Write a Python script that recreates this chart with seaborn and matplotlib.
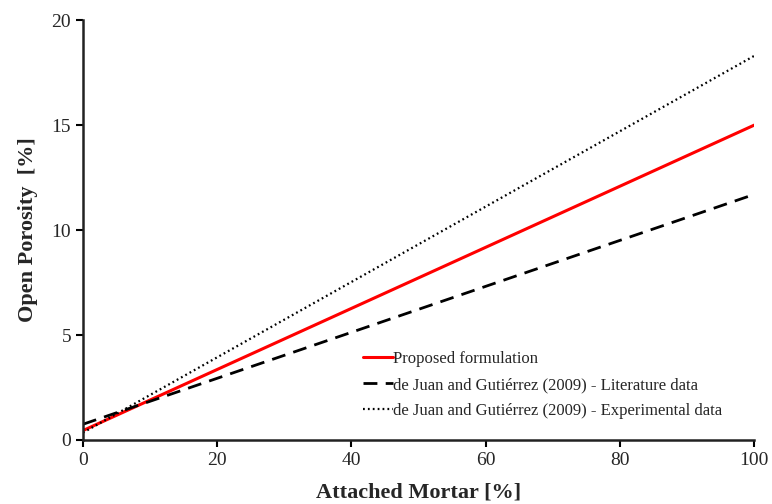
import matplotlib
matplotlib.use("Agg")
import matplotlib.pyplot as plt
import seaborn as sns
import pandas as pd

mortar = [0, 100]
proposed = [0.45, 15.0]
literature = [0.75, 11.7]
experimental = [0.35, 18.3]
labels = ["Proposed formulation",
          "de Juan and Gutiérrez (2009) - Literature data",
          "de Juan and Gutiérrez (2009) - Experimental data"]

sns.set_style("ticks")
plt.rcParams['font.family'] = ['Liberation Serif', 'DejaVu Serif']

fig = plt.figure(figsize=(7.72, 5.04), dpi=100)
ax = fig.add_axes([0.1075, 0.127, 0.8695, 0.833])

sns.lineplot(x=mortar, y=proposed, ax=ax, color="#ff0000", lw=2.2, label=labels[0])
sns.lineplot(x=mortar, y=literature, ax=ax, color="black", lw=2.0, label=labels[1])
sns.lineplot(x=mortar, y=experimental, ax=ax, color="black", lw=1.6, label=labels[2])
ax.lines[1].set_dashes([5, 3])
ax.lines[2].set_dashes([0.8, 1.4])

ax.set_xlim(0, 100)
ax.set_ylim(0, 20)
ax.set_xticks([0, 20, 40, 60, 80, 100])
ax.set_yticks([0, 5, 10, 15, 20])
ax.tick_params(axis='both', labelsize=14, direction='out', length=5, width=1.5, color='black')
for s in ["top", "right"]:
    ax.spines[s].set_visible(False)
for s in ["left", "bottom"]:
    ax.spines[s].set_linewidth(1.8)
    ax.spines[s].set_color('#222222')
ax.set_xlabel("Attached Mortar [%]", fontsize=16, fontweight='bold', labelpad=10)
ax.set_ylabel("Open Porosity  [%]", fontsize=16, fontweight='bold', labelpad=10)

leg = ax.legend(loc='upper left', bbox_to_anchor=(0.407, 0.228), frameon=False,
                fontsize=12, handlelength=1.8, handletextpad=0.0, labelspacing=0.6,
                borderaxespad=0)
fig.savefig("out.png", dpi=100)
